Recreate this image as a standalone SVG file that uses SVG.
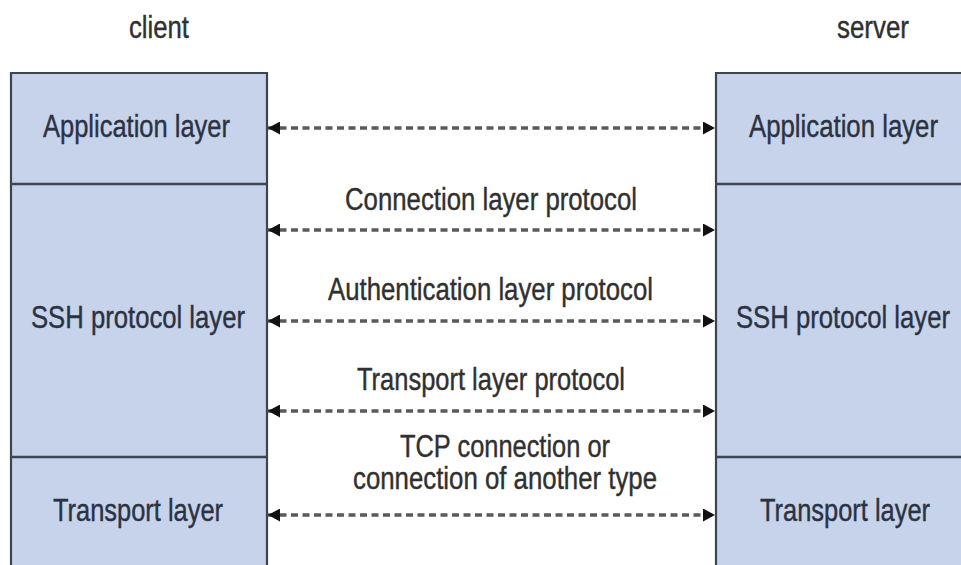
<svg xmlns="http://www.w3.org/2000/svg" width="961" height="565" viewBox="0 0 961 565">
<style>
  .fill { fill: #c6d3ea; stroke: none; }
  .edge { fill: none; stroke: #3d4452; stroke-width: 2.2; }
  .div { stroke: #3d4452; stroke-width: 2.5; }
  .lbl { font-family: "Liberation Sans", Arial, sans-serif; font-size: 31px; fill: #2b3242; stroke: #2b3242; stroke-width: 0.4; text-anchor: middle; }
  .mid { font-family: "Liberation Sans", Arial, sans-serif; font-size: 31px; fill: #303030; stroke: #303030; stroke-width: 0.4; text-anchor: middle; }
  .arr { stroke: #5a5a5a; stroke-width: 3.5; stroke-dasharray: 7 4.5; fill: none; marker-start: url(#head); marker-end: url(#head); }
</style>
<defs>
  <marker id="head" markerUnits="userSpaceOnUse" viewBox="0 0 12 13" refX="12" refY="6.5" markerWidth="12" markerHeight="13" orient="auto-start-reverse">
    <path d="M0,0 L12,6.5 L0,13 Z" fill="#111111"/>
  </marker>
</defs>
<rect width="961" height="565" fill="#ffffff"/>
<g id="client-label"><text class="mid" x="159" y="38" textLength="60" lengthAdjust="spacingAndGlyphs">client</text></g>
<g id="server-label"><text class="mid" x="873" y="38" textLength="72" lengthAdjust="spacingAndGlyphs">server</text></g>

<g id="client-stack">
  <rect class="fill" x="11" y="73" width="256" height="492"/>
  <path class="edge" d="M11,565 V73 H267 V565"/>
  <line class="div" x1="11" y1="184" x2="267" y2="184"/>
  <line class="div" x1="11" y1="457" x2="267" y2="457"/>
</g>
<g id="client-app"><text class="lbl" x="136.5" y="137" textLength="187" lengthAdjust="spacingAndGlyphs">Application layer</text></g>
<g id="client-ssh"><text class="lbl" x="138" y="328" textLength="214" lengthAdjust="spacingAndGlyphs">SSH protocol layer</text></g>
<g id="client-transport"><text class="lbl" x="138" y="521" textLength="170" lengthAdjust="spacingAndGlyphs">Transport layer</text></g>

<g id="server-stack">
  <rect class="fill" x="716" y="73" width="245" height="492"/>
  <path class="edge" d="M716,565 V73 H961"/>
  <line class="div" x1="716" y1="184" x2="961" y2="184"/>
  <line class="div" x1="716" y1="457" x2="961" y2="457"/>
</g>
<g id="server-app"><text class="lbl" x="843.5" y="137" textLength="189" lengthAdjust="spacingAndGlyphs">Application layer</text></g>
<g id="server-ssh"><text class="lbl" x="843" y="328" textLength="214" lengthAdjust="spacingAndGlyphs">SSH protocol layer</text></g>
<g id="server-transport"><text class="lbl" x="845" y="521" textLength="170" lengthAdjust="spacingAndGlyphs">Transport layer</text></g>

<g id="connectors">
  <line class="arr" x1="268" y1="128" x2="715" y2="128"/>
  <line class="arr" x1="268" y1="230" x2="715" y2="230"/>
  <line class="arr" x1="268" y1="321" x2="715" y2="321"/>
  <line class="arr" x1="268" y1="411" x2="715" y2="411"/>
  <line class="arr" x1="268" y1="515" x2="715" y2="515"/>
  <text class="mid" x="491" y="210" textLength="292" lengthAdjust="spacingAndGlyphs">Connection layer protocol</text>
  <text class="mid" x="490.5" y="300" textLength="325" lengthAdjust="spacingAndGlyphs">Authentication layer protocol</text>
  <text class="mid" x="491" y="390" textLength="268" lengthAdjust="spacingAndGlyphs">Transport layer protocol</text>
  <text class="mid" x="505" y="457" textLength="210" lengthAdjust="spacingAndGlyphs">TCP connection or</text>
  <text class="mid" x="505" y="489" textLength="304" lengthAdjust="spacingAndGlyphs">connection of another type</text>
</g>
</svg>
